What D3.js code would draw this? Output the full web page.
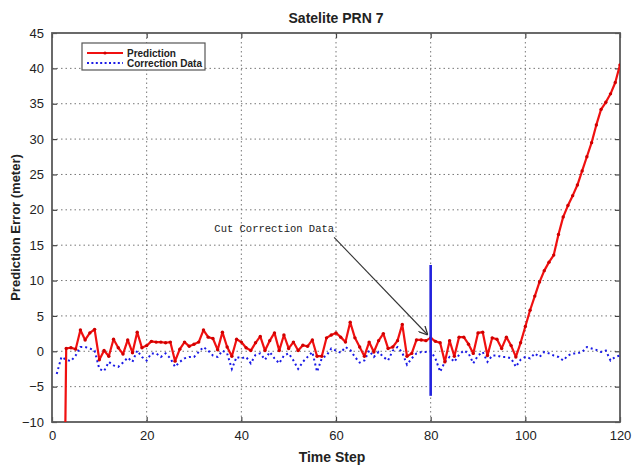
<!DOCTYPE html>
<html>
<head>
<meta charset="utf-8">
<script src="https://cdn.jsdelivr.net/npm/d3@7/dist/d3.min.js"></script>
<style>
  html, body { margin: 0; padding: 0; background: #fff; }
  svg { display: block; }
  text { font-family: "Liberation Sans", Arial, sans-serif; fill: #222; }
</style>
</head>
<body>
<svg id="chart" width="632" height="466"></svg>
<script>
// ---- data ----
const title = "Satelite PRN 7";
const xLabel = "Time Step";
const yLabel = "Prediction Error (meter)";
const xTicks = [0, 20, 40, 60, 80, 100, 120];
const yTicks = [-10, -5, 0, 5, 10, 15, 20, 25, 30, 35, 40, 45];
const seriesNames = ["Prediction", "Correction Data"];

// Prediction error, time steps 2..120 (step 2 falls far below the axis)
const predSteps = d3.range(2, 121);
const predValues = [
  -60, 0.4, 0.5, 0.3, 3.0, 1.6, 2.6, 3.1, -1.2, 0.1,
  -0.7, 1.7, 0.5, -0.4, 1.6, -0.2, 2.7, 0.5, 0.8, 1.4,
  1.3, 1.3, 1.2, 1.3, -1.4, 0.3, 1.3, 0.7, 1.0, 1.3,
  3.0, 2.0, 1.8, 0.2, 2.7, 0.6, -0.7, 1.7, 1.3, 0.5,
  0.1, 1.2, 2.1, 0.1, 1.5, 2.6, 0.1, 2.3, 0.4, 1.3,
  0.1, 0.85, 0.7, 1.6, -0.7, -0.7, 1.9, 2.3, 2.6, 2.0,
  1.3, 4.1, 1.9, 0.6, -0.7, 1.3, -0.1, 1.5, 2.5, 0.4,
  0.6, 1.5, 3.8, -0.7, -0.3, 1.6, 1.6, 1.5, 1.9, 1.4,
  1.2, -1.5, 1.5, -0.7, 2.0, 2.0, 1.0, -0.3, 2.6, 2.7,
  -0.6, 1.9, 1.7, 0.4, 2.0, 0.8, -0.8, 1.2, 3.5, 5.8,
  7.8, 9.8, 11.4, 12.6, 13.6, 16.5, 19.0, 20.6, 22.0, 23.5,
  25.5, 27.5, 29.5, 32.0, 34.2, 35.2, 36.4, 38.0, 40.5
];

// Correction data, time steps 1..120
const corrSteps = d3.range(1, 121);
const corrValues = [
  -3.2, -0.8, -1.2, -1.4, -0.6, 0.6, 0.6, 0.4, 0.1, -2.5,
  -2.8, -1.5, -2.0, -2.2, -1.6, -0.9, -1.5, 0.1, -0.8, -1.3,
  -0.3, -0.3, -0.8, -0.3, -1.0, -2.2, -1.5, -1.0, -0.8, -0.8,
  -0.1, 0.6, 0.1, -0.6, -0.8, 0.1, -0.3, -2.5, -0.8, -1.0,
  -0.8, -1.7, -0.5, -0.3, -1.2, -0.1, -1.0, -1.7, -0.6, -0.3,
  -1.3, -2.5, -1.5, -0.8, -0.1, -2.9, -1.0, -0.6, 0.4, 0.1,
  -0.2, 0.6, 0.2, -0.8, -1.6, -1.3, 0.1, -0.8, -0.1, -0.8,
  -1.3, 0.1, 0.6, -0.2, -1.9, -1.0, -0.3, -0.1, -0.1, 0.0,
  -1.0, -2.9, -1.5, -0.8, -1.5, -0.5, 0.1, -0.3, -1.7, -0.6,
  -0.1, -1.5, -0.6, -0.6, -0.8, -0.8, -1.0, -2.2, -1.2, -0.8,
  -1.0, -0.3, -0.8, -0.1, -0.3, -0.6, -0.8, -1.3, -0.6, -0.3,
  -0.3, -0.1, 0.6, 0.4, 0.2, -0.1, 0.1, -1.3, -0.8, -0.6
];

// Cut marker and annotation
const cutStep = 80;
const cutRange = [-6.3, 12.2];
const annotationText = "Cut Correction Data";
const annotationTextPos = [34.3, 16.9];
const arrowFrom = [59.6, 16.1];
const arrowTo = [79.4, 2.3];

// ---- layout ----
const svg = d3.select("#chart");
const mLeft = 52, mRight = 620, mTop = 33, mBottom = 422;
const x = d3.scaleLinear().domain([0, 120]).range([mLeft, mRight]);
const y = d3.scaleLinear().domain([-10, 45]).range([mBottom, mTop]);

svg.append("rect").attr("width", 632).attr("height", 466).attr("fill", "#fff");

const defs = svg.append("defs");
defs.append("clipPath").attr("id", "plotclip")
  .append("rect").attr("x", mLeft).attr("y", mTop)
  .attr("width", mRight - mLeft).attr("height", mBottom - mTop);
defs.append("marker").attr("id", "arrowhead")
  .attr("viewBox", "0 0 10 10").attr("refX", 10).attr("refY", 5)
  .attr("markerWidth", 9).attr("markerHeight", 9)
  .attr("markerUnits", "userSpaceOnUse")
  .attr("orient", "auto")
  .append("path").attr("d", "M0,0 L10,5 L0,10").attr("fill", "none")
  .attr("stroke", "#333").attr("stroke-width", 1.4);

// grid
const grid = svg.append("g");
grid.selectAll(".gx").data(xTicks.slice(1, -1)).join("line")
  .attr("x1", d => x(d)).attr("x2", d => x(d))
  .attr("y1", mTop).attr("y2", mBottom)
  .attr("stroke", "#777").attr("stroke-width", 1).attr("stroke-dasharray", "1.5,3");
grid.selectAll(".gy").data(yTicks.slice(1, -1)).join("line")
  .attr("y1", d => y(d)).attr("y2", d => y(d))
  .attr("x1", mLeft).attr("x2", mRight)
  .attr("stroke", "#777").attr("stroke-width", 1).attr("stroke-dasharray", "1.5,3");

// axes (ticks pointing inward)
const axisStyle = g => {
  g.select(".domain").remove();
  g.selectAll(".tick line").attr("stroke", "#444").attr("stroke-width", 1.2);
  g.selectAll(".tick text").style("font-size", "13px").style("font-family", "'Liberation Sans', Arial, sans-serif").attr("fill", "#222");
};
svg.append("g").attr("transform", `translate(0,${mBottom})`)
  .call(d3.axisBottom(x).tickValues(xTicks).tickSize(-5).tickPadding(9).tickFormat(d3.format("d")))
  .call(axisStyle);
svg.append("g").attr("transform", `translate(0,${mTop})`)
  .call(d3.axisTop(x).tickValues(xTicks).tickSize(-5).tickFormat(""))
  .call(axisStyle);
svg.append("g").attr("transform", `translate(${mLeft},0)`)
  .call(d3.axisLeft(y).tickValues(yTicks).tickSize(-5).tickPadding(8).tickFormat(d3.format("d")))
  .call(axisStyle);
svg.append("g").attr("transform", `translate(${mRight},0)`)
  .call(d3.axisRight(y).tickValues(yTicks).tickSize(-5).tickFormat(""))
  .call(axisStyle);

// frame
svg.append("rect").attr("x", mLeft).attr("y", mTop)
  .attr("width", mRight - mLeft).attr("height", mBottom - mTop)
  .attr("fill", "none").attr("stroke", "#5a5a5a").attr("stroke-width", 1.8);

const plot = svg.append("g").attr("clip-path", "url(#plotclip)");

// correction data (blue dotted)
const corr = corrSteps.map((s, i) => [s, corrValues[i]]);
plot.append("path").datum(corr)
  .attr("d", d3.line().x(d => x(d[0])).y(d => y(d[1])))
  .attr("fill", "none").attr("stroke", "#1a1ae6").attr("stroke-width", 2)
  .attr("stroke-dasharray", "2,3");

// prediction (red with dot markers)
const pred = predSteps.map((s, i) => [s, predValues[i]]);
plot.append("path").datum(pred)
  .attr("d", d3.line().x(d => x(d[0])).y(d => y(d[1])))
  .attr("fill", "none").attr("stroke", "#f01010").attr("stroke-width", 2.2)
  .attr("stroke-linejoin", "round");
plot.selectAll(".pm").data(pred).join("circle")
  .attr("cx", d => x(d[0])).attr("cy", d => y(d[1])).attr("r", 1.7)
  .attr("fill", "#d00000");

// cut line
plot.append("line")
  .attr("x1", x(cutStep)).attr("x2", x(cutStep))
  .attr("y1", y(cutRange[0])).attr("y2", y(cutRange[1]))
  .attr("stroke", "#2222dd").attr("stroke-width", 2.6);

// annotation
svg.append("line")
  .attr("x1", x(arrowFrom[0])).attr("y1", y(arrowFrom[1]))
  .attr("x2", x(arrowTo[0])).attr("y2", y(arrowTo[1]))
  .attr("stroke", "#333").attr("stroke-width", 1.1)
  .attr("marker-end", "url(#arrowhead)");
svg.append("text")
  .attr("x", x(annotationTextPos[0])).attr("y", y(annotationTextPos[1]))
  .style("font-family", "'Liberation Mono', 'DejaVu Sans Mono', monospace")
  .style("font-size", "10.5px").attr("fill", "#111")
  .text(annotationText);

// title and axis labels
const narrow = "'Liberation Sans Narrow', 'Arial Narrow', 'Liberation Sans', sans-serif";
svg.append("text").attr("x", (mLeft + mRight) / 2).attr("y", 23)
  .attr("text-anchor", "middle")
  .style("font-family", narrow)
  .style("font-size", "14px").style("font-weight", "bold").attr("fill", "#222")
  .text(title);
svg.append("text").attr("x", (mLeft + mRight) / 2 - 4).attr("y", 462)
  .attr("text-anchor", "middle")
  .style("font-family", narrow)
  .style("font-size", "14px").style("font-weight", "bold").attr("fill", "#222")
  .text(xLabel);
svg.append("text")
  .attr("transform", `translate(20,${(mTop + mBottom) / 2}) rotate(-90)`)
  .attr("text-anchor", "middle")
  .style("font-family", narrow)
  .style("font-size", "13px").style("font-weight", "bold").attr("fill", "#222")
  .text(yLabel);

// legend
const lg = svg.append("g");
lg.append("rect").attr("x", 82).attr("y", 43).attr("width", 123).attr("height", 27)
  .attr("fill", "#fff").attr("stroke", "#555").attr("stroke-width", 1.2);
const lgItems = [
  { name: seriesNames[0], color: "#f01010", dash: null, marker: true },
  { name: seriesNames[1], color: "#1a1ae6", dash: "2,2.4", marker: false }
];
lgItems.forEach((it, i) => {
  const yy = 53 + i * 10;
  lg.append("line").attr("x1", 87).attr("x2", 123).attr("y1", yy).attr("y2", yy)
    .attr("stroke", it.color).attr("stroke-width", it.marker ? 2 : 1.8)
    .attr("stroke-dasharray", it.dash);
  if (it.marker) lg.append("circle").attr("cx", 105).attr("cy", yy).attr("r", 1.6).attr("fill", "#d00000");
  lg.append("text").attr("x", 127).attr("y", yy + 3.5)
    .style("font-family", narrow)
    .style("font-size", "10px").style("font-weight", "bold").attr("fill", "#222")
    .text(it.name);
});
</script>
</body>
</html>
